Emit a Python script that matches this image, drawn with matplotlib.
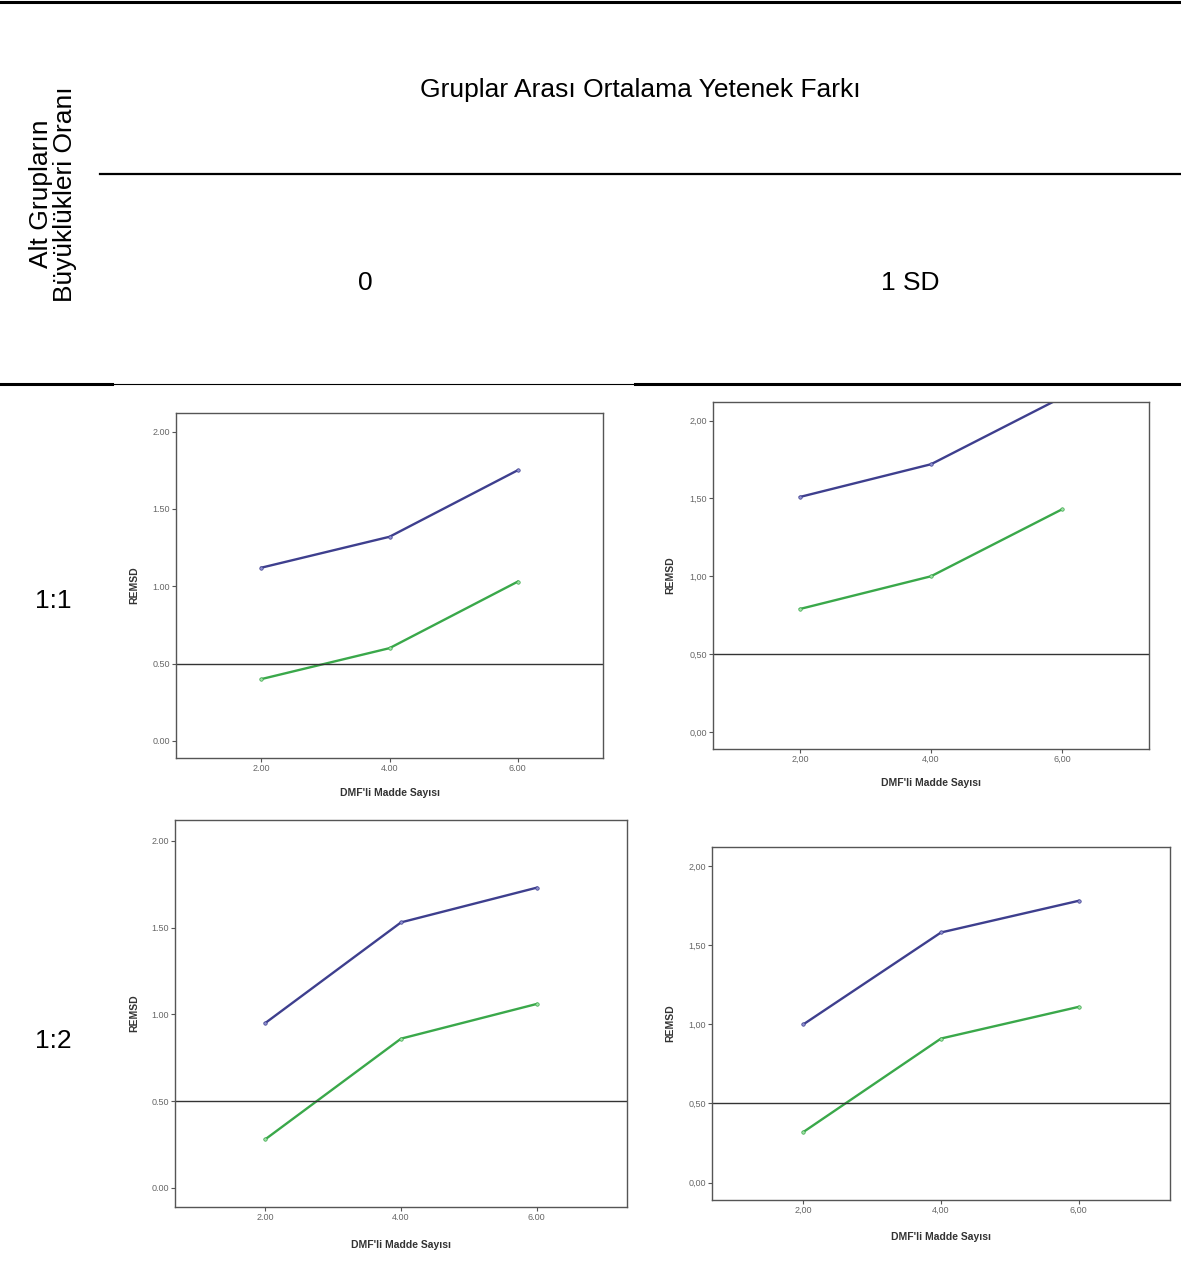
import matplotlib.pyplot as plt
from matplotlib.lines import Line2D

plt.rcParams['font.family'] = ['Liberation Sans', 'DejaVu Sans']

W, H = 1181, 1267

# DMF'li madde sayisi
x = [2, 4, 6]

# REMSD means per cell (top line / bottom line)
blue_11_0 = [1.12, 1.32, 1.75]
green_11_0 = [0.40, 0.60, 1.03]
blue_11_1sd = [1.51, 1.72, 2.15]
green_11_1sd = [0.79, 1.00, 1.43]
blue_12_0 = [0.95, 1.53, 1.73]
green_12_0 = [0.28, 0.86, 1.06]
blue_12_1sd = [1.00, 1.58, 1.78]
green_12_1sd = [0.32, 0.91, 1.11]

y_ticks = [0.0, 0.5, 1.0, 1.5, 2.0]
x_ticks = [2, 4, 6]
cut_off = 0.5

header = 'Gruplar Arası Ortalama Yetenek Farkı'
col_labels = ['0', '1 SD']
row_labels = ['1:1', '1:2']
side_label = 'Alt Grupların\nBüyüklükleri Oranı'
x_label = "DMF'li Madde Sayısı"
y_label = 'REMSD'

BLUE = '#3e3f8e'
GREEN = '#3aa84a'

fig = plt.figure(figsize=(W / 100, H / 100), dpi=100)


def fx(px):
    return px / W


def fy(py):
    return 1 - py / H


def hline(x0, x1, y, lw):
    fig.add_artist(Line2D([fx(x0), fx(x1)], [fy(y), fy(y)], color='black',
                          lw=lw, transform=fig.transFigure))


# table rules and headings
hline(0, W, 2, 2.2)
hline(100, W, 174, 1.6)
hline(0, 112, 384, 2.2)
hline(112, 635, 384, 0.8)
hline(635, W, 384, 2.2)

fig.text(fx(640), fy(90), header, ha='center', va='center', fontsize=19)
fig.text(fx(365), fy(283), col_labels[0], ha='center', va='center', fontsize=19)
fig.text(fx(910), fy(283), col_labels[1], ha='center', va='center', fontsize=19)
fig.text(fx(53), fy(194), side_label, ha='center', va='center', fontsize=19,
         rotation=90, linespacing=1.0)
fig.text(fx(53), fy(601), row_labels[0], ha='center', va='center', fontsize=19)
fig.text(fx(53), fy(1041), row_labels[1], ha='center', va='center', fontsize=19)


def panel(box, blue, green, dec, ylab_x, xlab_y):
    l, t, r, b = box
    ax = fig.add_axes([fx(l), fy(b), (r - l) / W, (b - t) / H])
    ax.plot(x, blue, color=BLUE, lw=1.7, marker='o', ms=2.5,
            mfc='#8f90d0', mec=BLUE, mew=0.5)
    ax.plot(x, green, color=GREEN, lw=1.7, marker='o', ms=2.5,
            mfc='#9ee0a4', mec=GREEN, mew=0.5)
    ax.axhline(cut_off, color='#333333', lw=1.0)
    ax.set_xlim(0.67, 7.33)
    ax.set_ylim(-0.11, 2.12)
    ax.set_xticks(x_ticks)
    ax.set_yticks(y_ticks)
    ax.set_xticklabels([f'{v:.2f}'.replace('.', dec) for v in x_ticks])
    ax.set_yticklabels([f'{v:.2f}'.replace('.', dec) for v in y_ticks])
    for s in ax.spines.values():
        s.set_color('#555555')
        s.set_linewidth(1.0)
    ax.tick_params(direction='out', length=3, width=0.8, color='#555555',
                   labelsize=6.5, labelcolor='#666666', pad=1.5,
                   top=False, right=False)
    fig.text(fx(ylab_x), fy((t + b) / 2), y_label, rotation=90, ha='center',
             va='center', fontsize=7.5, fontweight='bold', color='#333333')
    fig.text(fx((l + r) / 2), fy(xlab_y), x_label, ha='center', va='center',
             fontsize=7.5, fontweight='bold', color='#333333')
    return ax


panel((176, 413, 603, 758), blue_11_0, green_11_0, '.', 134, 793)
panel((713, 402, 1149, 749), blue_11_1sd, green_11_1sd, ',', 670, 783)
panel((175, 820, 627, 1207), blue_12_0, green_12_0, '.', 134, 1245)
panel((712, 847, 1170, 1200), blue_12_1sd, green_12_1sd, ',', 670, 1237)

fig.savefig('out.png', dpi=100)
